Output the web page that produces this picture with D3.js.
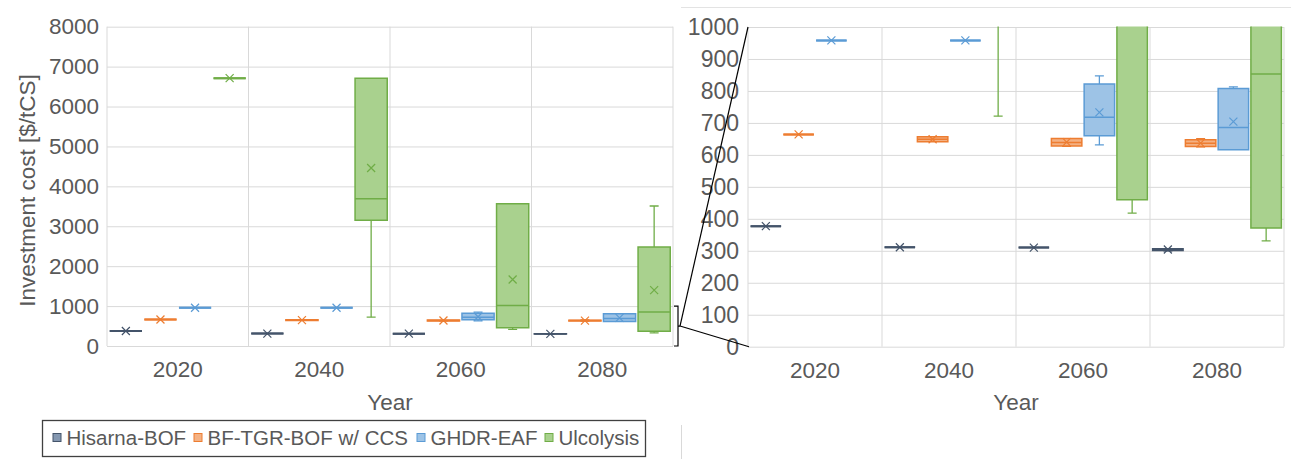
<!DOCTYPE html>
<html>
<head>
<meta charset="utf-8">
<script src="https://cdn.jsdelivr.net/npm/d3@7"></script>
<style>
  html, body { margin: 0; padding: 0; background: #ffffff; }
  svg { display: block; font-family: "Liberation Sans", Arial, sans-serif; }
</style>
</head>
<body>
<svg id="chart" width="1291" height="459"></svg>
<script>
// Categories and series
const years = ["2020", "2040", "2060", "2080"];
const seriesNames = ["Hisarna-BOF", "BF-TGR-BOF w/ CCS", "GHDR-EAF", "Ulcolysis"];

// Box statistics per year: [min, q1, median, q3, max, mean]  ($/tCS)
const hisarnaBOF = [
  [377, 377, 377, 377, 377, 377],
  [311, 311, 311, 311, 311, 311],
  [310, 310, 310, 310, 310, 310],
  [300, 301, 303, 306, 306, 304]
];
const bfTgrBofCcs = [
  [664, 664, 664, 664, 664, 664],
  [641, 641, 649, 657, 657, 649],
  [627, 628, 639, 651, 651, 640],
  [625, 626, 636, 647, 651, 637]
];
const ghdrEaf = [
  [958, 958, 958, 958, 958, 958],
  [958, 958, 958, 958, 958, 958],
  [631, 660, 718, 822, 847, 733],
  [616, 616, 686, 808, 813, 704]
];
const ulcolysis = [
  [6710, 6710, 6710, 6710, 6710, 6710],
  [721, 3150, 3692, 6710, 6710, 4460],
  [418, 460, 1017, 3567, 3567, 1667],
  [331, 371, 853, 2483, 3508, 1400]
];

// Axis ticks
const fullTicks = [0, 1000, 2000, 3000, 4000, 5000, 6000, 7000, 8000];
const zoomTicks = [0, 100, 200, 300, 400, 500, 600, 700, 800, 900, 1000];

// Series styling
const strokeColors = ["#44546A", "#ED7D31", "#5B9BD5", "#70AD47"];
const fillColors = ["#8497B0", "#F4B183", "#9DC3E6", "#A9D18E"];

const allSeries = [hisarnaBOF, bfTgrBofCcs, ghdrEaf, ulcolysis];
const textColor = "#595959";
const gridColor = "#d9d9d9";

const svg = d3.select("#chart");

function drawPanel(opts) {
  const { id, left, right, top, bottom, yMax, ticks, fontSize, labelPad } = opts;
  const g = svg.append("g").attr("class", "panel-" + id);

  const x = d3.scaleBand().domain(years).range([left, right]).padding(0);
  const xs = d3.scaleBand().domain(d3.range(seriesNames.length))
    .range([0, x.bandwidth()]).paddingInner(0.07).paddingOuter(0.08);
  const y = d3.scaleLinear().domain([0, yMax]).range([bottom, top]);

  // horizontal gridlines
  g.append("g")
    .attr("transform", `translate(${left},0)`)
    .call(d3.axisLeft(y).tickValues(ticks).tickSize(-(right - left)).tickFormat(""))
    .call(a => a.select(".domain").remove())
    .call(a => a.selectAll("line").attr("stroke", gridColor).attr("stroke-width", 1));

  // vertical gridlines at category boundaries
  const bounds = years.map(d => x(d)).concat([right]);
  g.append("g").selectAll("line").data(bounds).join("line")
    .attr("x1", d => d).attr("x2", d => d)
    .attr("y1", top).attr("y2", bottom)
    .attr("stroke", gridColor).attr("stroke-width", 1);

  // y tick labels
  g.append("g")
    .attr("transform", `translate(${left},0)`)
    .call(d3.axisLeft(y).tickValues(ticks).tickFormat(d3.format("d")).tickSize(0).tickPadding(labelPad))
    .call(a => a.select(".domain").remove())
    .call(a => a.selectAll("text")
      .attr("fill", textColor).style("font-size", fontSize + "px")
      .style("font-family", "'Liberation Sans', Arial, sans-serif"));

  // x tick labels
  g.append("g")
    .attr("transform", `translate(0,${bottom})`)
    .call(d3.axisBottom(x).tickSize(0).tickPadding(15))
    .call(a => a.select(".domain").remove())
    .call(a => a.selectAll("text")
      .attr("fill", textColor).style("font-size", "22.5px")
      .style("font-family", "'Liberation Sans', Arial, sans-serif"));

  // x axis title
  g.append("text")
    .attr("x", (left + right) / 2).attr("y", 410)
    .attr("text-anchor", "middle")
    .attr("fill", textColor).style("font-size", "22.5px")
    .text("Year");

  // clip region for the marks
  svg.append("defs").append("clipPath").attr("id", "clip-" + id)
    .append("rect").attr("x", left).attr("y", top - 0.5)
    .attr("width", right - left).attr("height", bottom - top + 1);

  const marks = g.append("g").attr("clip-path", `url(#clip-${id})`);

  allSeries.forEach((series, si) => {
    const sg = marks.append("g").attr("class", "series-" + si);
    series.forEach((s, yi) => {
      const [mn, q1, med, q3, mx, mean] = s;
      const x0 = x(years[yi]) + xs(si);
      const w = xs.bandwidth();
      const cx = x0 + w / 2;
      const capW = 9;
      const stroke = strokeColors[si];
      const flat = q3 - q1 === 0;

      // whiskers
      if (mx > q3) {
        sg.append("line").attr("x1", cx).attr("x2", cx)
          .attr("y1", y(q3)).attr("y2", y(mx))
          .attr("stroke", stroke).attr("stroke-width", 1.3);
        sg.append("line").attr("x1", cx - capW / 2).attr("x2", cx + capW / 2)
          .attr("y1", y(mx)).attr("y2", y(mx))
          .attr("stroke", stroke).attr("stroke-width", 1.3);
      }
      if (mn < q1) {
        sg.append("line").attr("x1", cx).attr("x2", cx)
          .attr("y1", y(q1)).attr("y2", y(mn))
          .attr("stroke", stroke).attr("stroke-width", 1.3);
        sg.append("line").attr("x1", cx - capW / 2).attr("x2", cx + capW / 2)
          .attr("y1", y(mn)).attr("y2", y(mn))
          .attr("stroke", stroke).attr("stroke-width", 1.3);
      }

      // box (a path so a zero-height box still shows as a line)
      const yTop = y(q3), yBot = y(q1);
      sg.append("path")
        .attr("d", `M${x0},${yBot}H${x0 + w}V${yTop}H${x0}Z`)
        .attr("fill", fillColors[si])
        .attr("stroke", stroke)
        .attr("stroke-width", flat ? 2 : 1.5);

      // median
      sg.append("line").attr("x1", x0).attr("x2", x0 + w)
        .attr("y1", y(med)).attr("y2", y(med))
        .attr("stroke", stroke).attr("stroke-width", flat ? 2 : 1.5);

      // mean marker
      const m = 4, my = y(mean);
      sg.append("path")
        .attr("d", `M${cx - m},${my - m}L${cx + m},${my + m}M${cx - m},${my + m}L${cx + m},${my - m}`)
        .attr("stroke", stroke).attr("stroke-width", 1.2).attr("fill", "none");
    });
  });

  return { x, y };
}

// Full-range panel
const full = drawPanel({
  id: "full", left: 107, right: 673, top: 26.7, bottom: 346,
  yMax: 8000, ticks: fullTicks, fontSize: 22.5, labelPad: 8
});

// Zoomed panel (0-1000)
const zoom = drawPanel({
  id: "zoom", left: 748, right: 1284, top: 27, bottom: 346.7,
  yMax: 1000, ticks: zoomTicks, fontSize: 23, labelPad: 9
});

// y axis title
svg.append("text")
  .attr("transform", "translate(34.5,190.5) rotate(-90)")
  .attr("text-anchor", "middle")
  .attr("fill", textColor).style("font-size", "22.5px")
  .text("Investment cost [$/tCS]");

// frame of the zoomed chart
svg.append("line").attr("x1", 681).attr("x2", 1291).attr("y1", 7.5).attr("y2", 7.5)
  .attr("stroke", "#e3e3e3").attr("stroke-width", 1);
svg.append("line").attr("x1", 681.5).attr("x2", 681.5).attr("y1", 425).attr("y2", 459)
  .attr("stroke", "#d9d9d9").attr("stroke-width", 1);

// bracket marking the 0-1000 range on the full panel, with connector lines
const bTop = full.y(1000), bBot = full.y(0), bx = 678;
const bMid = (bTop + bBot) / 2;
const bracket = svg.append("g").attr("stroke", "#000").attr("stroke-width", 1.2).attr("fill", "none");
bracket.append("path")
  .attr("d", `M${bx - 4},${bTop}H${bx}V${bBot}H${bx - 4}M${bx},${bMid}H${bx + 2}`);
bracket.append("line").attr("x1", bx + 2).attr("y1", bMid)
  .attr("x2", 748).attr("y2", zoom.y(1000));
bracket.append("line").attr("x1", bx + 2).attr("y1", bMid)
  .attr("x2", 749).attr("y2", zoom.y(0));

// legend
const legend = svg.append("g");
legend.append("rect").attr("x", 42.5).attr("y", 420.5).attr("width", 603).attr("height", 36)
  .attr("fill", "#fff").attr("stroke", "#404040").attr("stroke-width", 1.3);
const legendX = [53, 194, 417, 545];
seriesNames.forEach((name, i) => {
  legend.append("rect").attr("x", legendX[i]).attr("y", 433.5).attr("width", 8).attr("height", 8)
    .attr("fill", fillColors[i]).attr("stroke", strokeColors[i]).attr("stroke-width", 1);
  legend.append("text").attr("x", legendX[i] + 13.5).attr("y", 445)
    .attr("fill", textColor).style("font-size", "20.5px").text(name);
});
</script>
</body>
</html>
